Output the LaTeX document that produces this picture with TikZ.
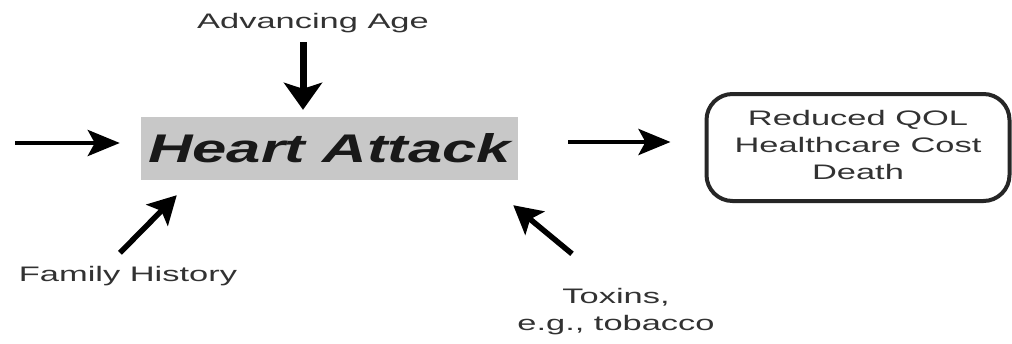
\documentclass[tikz,border=0pt]{standalone}
\usepackage{fontspec}
\setmainfont{Liberation Sans}
\usetikzlibrary{arrows.meta}
\definecolor{boxgray}{RGB}{200,200,200}
\definecolor{txtgray}{RGB}{50,50,50}
\newcommand\sxt[1]{\scalebox{1.64}[1]{#1}}
\begin{document}
\begin{tikzpicture}[x=1pt,y=-1pt,
  lbl/.style={inner sep=0pt, text height=15pt, text depth=4pt, font=\fontsize{21}{27}\selectfont, text=txtgray},
  harr/.style={line width=4.5pt, -{Stealth[length=32pt,width=26pt,inset=7pt]}},
  varr/.style={line width=7pt, -{Stealth[length=27pt,width=38pt,inset=6pt]}},
  darr/.style={line width=5.5pt, -{Stealth[length=28pt,width=30pt,inset=6pt]}}]
\useasboundingbox (0,0) rectangle (1012,343);
% main box
\node[fill=boxgray, minimum width=377pt, minimum height=63pt, inner sep=0pt,
      font=\fontsize{40}{40}\selectfont\bfseries\itshape, text=black!90] (ha) at (329.5,148.5)
      {\scalebox{1.54}[1]{Heart Attack}};
% outcome box
\node[draw=black!85, line width=4pt, rounded corners=26pt, minimum width=303pt, minimum height=107pt,
      inner sep=0pt, font=\fontsize{21}{27}\selectfont, text=txtgray] (out) at (858,147.5)
      {\sxt{\begin{tabular}{@{}c@{}}Reduced QOL\\Healthcare Cost\\Death\end{tabular}}};
% labels
\node[lbl] (age) at (313,23) {\sxt{Advancing Age}};
\node[lbl] (fh) at (128,276) {\sxt{Family History}};
\node[inner sep=0pt, font=\fontsize{21}{27}\selectfont, text=txtgray] (tox) at (616,312)
      {\sxt{\begin{tabular}{@{}c@{}}Toxins,\\e.g., tobacco\end{tabular}}};
\coordinate (lstart) at (15,143);
% arrows
\draw[harr] (lstart) -- ([xshift=-21pt]ha.west |- lstart);
\draw[varr] ([xshift=-10pt,yshift=-9.5pt]age.south) -- ([xshift=-26.5pt,yshift=7pt]ha.north);
\draw[darr] ([xshift=-8pt,yshift=13.5pt]fh.north) -- ([xshift=36pt,yshift=-15pt]ha.south west);
\draw[darr] ([xshift=-44pt,yshift=31pt]tox.north) -- ([xshift=-5pt,yshift=-25pt]ha.south east);
\draw[harr] ([xshift=50pt,yshift=6.5pt]ha.east) -- ([xshift=-34pt,yshift=5.5pt]out.west);
\end{tikzpicture}
\end{document}
